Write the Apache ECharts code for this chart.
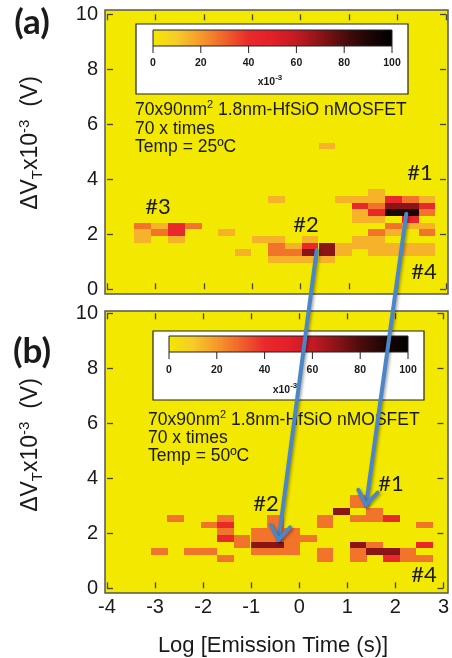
<!DOCTYPE html>
<html><head><meta charset="utf-8">
<script src="https://cdn.jsdelivr.net/npm/echarts@6/dist/echarts.min.js"></script>
<style>html,body{margin:0;padding:0;background:#fff}#c{width:452px;height:658px}</style>
</head><body><div id="c"></div>
<script>
// ---------- data ----------
const xTicks = [-4, -3, -2, -1, 0, 1, 2, 3];
const yTicks = [0, 2, 4, 6, 8, 10];
const colorbarTicks = [0, 20, 40, 60, 80, 100];
// histogram bin centres: log10 emission time (s) and ΔVT (x10^-3 V)
const logTimeBins = [-3.26, -2.91, -2.57, -2.22, -1.88, -1.53, -1.19, -0.84, -0.50, -0.15, 0.19, 0.54, 0.88, 1.23, 1.57, 1.92, 2.26, 2.61];
const dVBins = [1.09, 1.33, 1.58, 1.82, 2.06, 2.30, 2.55, 2.79, 3.03, 3.27, 3.52, 3.76, 5.21];
const binWidth = 0.345, binHeight = 0.2425;
// cells: [logTime bin index, ΔVT bin index, probability x10^-3]
const cells25C = [
  [0,5,27],[1,5,15],[2,5,42],[3,5,27],
  [0,4,15],[1,4,27],[2,4,42],
  [0,3,15],[2,3,15],
  [5,4,15],[8,9,15],[7,3,15],[8,3,15],[6,1,15],
  [8,2,27],[8,1,27],[8,0,15],
  [9,2,15],[9,1,27],[9,0,15],
  [10,3,15],[10,2,42],[10,1,70],[10,0,15],
  [11,2,70],[11,1,70],[11,0,15],
  [12,2,15],[12,1,15],
  [11,12,15],
  [14,10,15],
  [12,9,15],[13,9,15],[14,9,15],[15,9,42],[16,9,27],[17,9,15],
  [13,8,42],[14,8,27],[15,8,70],[16,8,70],[17,8,42],
  [13,7,15],[14,7,42],[15,7,90],[16,7,90],[17,7,27],
  [13,6,15],[14,6,15],[16,6,42],
  [15,5,27],[16,5,15],[17,5,15],
  [14,4,27],[15,4,15],[17,4,27],
  [13,3,15],[14,3,15],
  [13,2,15],[14,2,15],[15,2,15],[16,2,15],[17,2,15],
  [14,1,15],[15,1,15],[16,1,15],[17,1,15]
];
const cells50C = [
  [2,6,27],
  [4,5,27],[5,6,27],[5,5,42],[5,4,27],[5,3,42],
  [6,3,27],[6,2,27],
  [7,4,27],[7,3,27],[7,2,70],[7,1,27],
  [8,6,27],[8,5,27],[8,4,27],[8,3,27],[8,2,70],[8,1,27],
  [9,4,27],[9,3,27],[9,2,27],[9,1,27],
  [10,3,27],
  [1,1,27],[3,1,27],[4,1,27],[5,0,27],
  [11,6,27],[11,5,27],[11,1,27],[11,0,27],
  [12,7,70],
  [13,9,27],[13,8,27],[13,6,27],
  [14,7,27],[14,6,27],[15,6,42],
  [17,5,27],
  [13,2,70],[13,1,27],[13,0,27],
  [14,2,27],[14,1,70],[15,1,70],[15,0,42],
  [16,1,27],[16,0,27],
  [17,2,42],[17,0,27]
];
// arrows: [logTime, ΔVT] start in (a) → tip in (b)
const arrowStarts = [[0.33, 1.43], [2.18, 2.75]];
const arrowTips = [[-0.43, 1.76], [1.39, 3.03]];

// ---------- style ----------
const FONT = '"Liberation Sans", Arial, sans-serif';
const CAL = 'Lato, "Open Sans", sans-serif';
const YEL = '#f3e800';
const cmap = ['#f3e800','#f6cc28','#f59a2c','#f0642a','#e92a2a','#e41f28','#c21a22','#8a1416','#4c0c0c','#1e0505','#000000'];
const TXT = '#1a1a1a';

const chart = echarts.init(document.getElementById('c'));

function toData(cells) { return cells.map(c => [logTimeBins[c[0]], dVBins[c[1]], c[2]]); }
function renderItem(params, api) {
  const x = api.value(0), y = api.value(1);
  const p0 = api.coord([x - binWidth / 2, y + binHeight / 2]);
  const p1 = api.coord([x + binWidth / 2, y - binHeight / 2]);
  const x0 = Math.round(p0[0]), y0 = Math.round(p0[1]);
  return { type: 'rect', shape: { x: x0, y: y0, width: Math.round(p1[0]) - x0, height: Math.round(p1[1]) - y0 },
    style: { fill: api.visual('color') } };
}
const tick = { show: true, inside: true, length: 6, lineStyle: { color: '#444', width: 1.3 } };
function xAx(gi, pos, lab) {
  return { type: 'value', gridIndex: gi, position: pos, min: xTicks[0], max: xTicks[xTicks.length - 1], interval: 1,
    axisLine: { show: false, onZero: false }, axisTick: tick, splitLine: { show: false },
    axisLabel: { show: lab, margin: 9, fontSize: 20, color: TXT, fontFamily: FONT } };
}
function yAx(gi, pos, lab) {
  return { type: 'value', gridIndex: gi, position: pos, min: yTicks[0], max: yTicks[yTicks.length - 1], interval: 2,
    axisLine: { show: false, onZero: false }, axisTick: tick, splitLine: { show: false },
    axisLabel: { show: lab, margin: 9, fontSize: 20, color: TXT, fontFamily: FONT } };
}

function txt(x, y, text, size, opts) {
  return Object.assign({ type: 'text', x: x, y: y, z: 60,
    style: Object.assign({ text: text, fontSize: size, fontFamily: FONT, fill: TXT, align: 'left', verticalAlign: 'middle' }, opts || {}) });
}
function richInfo(x, y, size, supSize) {
  return { type: 'text', x: x, y: y, z: 60, style: {
    text: '{a|70x90nm}{s|2}{a| 1.8nm-HfSiO nMOSFET}', align: 'left', verticalAlign: 'middle',
    rich: { a: { fontSize: size, fontFamily: FONT, fill: TXT, lineHeight: 22, verticalAlign: 'middle' },
            s: { fontSize: supSize, fontFamily: FONT, fill: TXT, lineHeight: 11, verticalAlign: 'top' } } } };
}
function yTitle(x, y) {
  return { type: 'text', x: x, y: y, rotation: Math.PI / 2, z: 60, style: {
    text: '{a|ΔV}{b|T}{a|x10}{c|-3}{a|  (V)}', align: 'center', verticalAlign: 'middle',
    rich: { a: { fontSize: 23, fontFamily: FONT, fill: TXT, lineHeight: 28, verticalAlign: 'middle' },
            b: { fontSize: 15, fontFamily: FONT, fill: TXT, lineHeight: 14, verticalAlign: 'bottom' },
            c: { fontSize: 15, fontFamily: FONT, fill: TXT, lineHeight: 14, verticalAlign: 'top' } } } };
}
function colorbar(bx, by, bw, bh, barX, barY, barW, barH, labY, expX, expY) {
  const els = [];
  els.push({ type: 'rect', z: 40, shape: { x: bx, y: by, width: bw, height: bh }, style: { fill: '#fff', stroke: '#222', lineWidth: 1.2 } });
  const stops = cmap.map((c, i) => ({ offset: i / (cmap.length - 1), color: c }));
  els.push({ type: 'rect', z: 41, shape: { x: barX, y: barY, width: barW, height: barH },
    style: { fill: new echarts.graphic.LinearGradient(0, 0, 1, 0, stops), stroke: '#222', lineWidth: 1 } });
  colorbarTicks.forEach(t => {
    const tx = barX + (t - colorbarTicks[0]) / (colorbarTicks[colorbarTicks.length - 1] - colorbarTicks[0]) * barW;
    els.push({ type: 'line', z: 41, shape: { x1: tx, y1: barY + barH, x2: tx, y2: barY + barH + 7 }, style: { stroke: '#222', lineWidth: 1 } });
    els.push(txt(tx, labY, String(t), 10.5, { align: 'center', fontWeight: 'bold' }));
  });
  els.push({ type: 'text', x: expX, y: expY, z: 60, style: { text: '{a|x10}{s|-3}', align: 'center', verticalAlign: 'middle',
    rich: { a: { fontSize: 10.5, fontWeight: 'bold', fontFamily: FONT, fill: TXT, lineHeight: 16, verticalAlign: 'middle' },
            s: { fontSize: 8, fontWeight: 'bold', fontFamily: FONT, fill: TXT, lineHeight: 8, verticalAlign: 'top' } } } });
  return els;
}

const graphics = [
  { type: 'rect', z: -1, shape: { x: 105, y: 10, width: 343, height: 284 }, style: { fill: YEL } },
  { type: 'rect', z: -1, shape: { x: 105, y: 311, width: 343, height: 282 }, style: { fill: YEL } },
  { type: 'rect', z: 50, shape: { x: 105, y: 10, width: 343, height: 284 }, style: { fill: 'none', stroke: '#555', lineWidth: 1.5 } },
  { type: 'rect', z: 50, shape: { x: 105, y: 311, width: 343, height: 282 }, style: { fill: 'none', stroke: '#555', lineWidth: 1.5 } },
  ...colorbar(136, 24, 272, 70, 153, 30, 239, 16, 63, 270, 82),
  ...colorbar(153, 331, 271, 69, 169, 336, 239, 16, 370, 285, 390),
  richInfo(135, 110, 17.5, 11),
  txt(135, 129, '70 x times', 17.5),
  txt(135, 147, 'Temp = 25ºC', 17.5),
  richInfo(148, 420, 17.5, 11),
  txt(148, 438, '70 x times', 17.5),
  txt(148, 456, 'Temp = 50ºC', 17.5),
  txt(158, 207, '#3', 22, { align: 'center', fontFamily: CAL }),
  txt(306, 225, '#2', 22, { align: 'center', fontFamily: CAL }),
  txt(420, 173, '#1', 22, { align: 'center', fontFamily: CAL }),
  txt(424, 272, '#4', 22, { align: 'center', fontFamily: CAL }),
  txt(266, 504, '#2', 22, { align: 'center', fontFamily: CAL }),
  txt(391, 484, '#1', 22, { align: 'center', fontFamily: CAL }),
  txt(424, 575, '#4', 22, { align: 'center', fontFamily: CAL }),
  txt(32, 23, '(a)', 35, { align: 'center', fontFamily: CAL, fontWeight: 'bold' }),
  txt(32, 352, '(b)', 35, { align: 'center', fontFamily: CAL, fontWeight: 'bold' }),
  yTitle(31, 143),
  yTitle(31, 445),
  txt(273, 646, 'Log [Emission Time (s)]', 22, { align: 'center' })
];

chart.setOption({
  animation: false,
  backgroundColor: '#fff',
  grid: [
    { left: 107, top: 14.3, width: 339, height: 275 },
    { left: 107, top: 313.3, width: 339, height: 275 }
  ],
  xAxis: [xAx(0, 'bottom', false), xAx(0, 'top', false), xAx(1, 'bottom', true), xAx(1, 'top', false)],
  yAxis: [yAx(0, 'left', true), yAx(0, 'right', false), yAx(1, 'left', true), yAx(1, 'right', false)],
  visualMap: { type: 'continuous', show: false, min: 0, max: 100, dimension: 2, seriesIndex: [0, 1], inRange: { color: cmap } },
  series: [
    { type: 'custom', name: '25C', xAxisIndex: 0, yAxisIndex: 0, data: toData(cells25C), renderItem: renderItem, encode: { x: 0, y: 1 } },
    { type: 'custom', name: '50C', xAxisIndex: 2, yAxisIndex: 2, data: toData(cells50C), renderItem: renderItem, encode: { x: 0, y: 1 } }
  ],
  graphic: { elements: graphics }
});

// arrows, positioned through the axes
const arrowEls = [];
arrowStarts.forEach((s, i) => {
  const p0 = chart.convertToPixel({ seriesIndex: 0 }, s);
  const p1 = chart.convertToPixel({ seriesIndex: 1 }, arrowTips[i]);
  const dx = p0[0] - p1[0], dy = p0[1] - p1[1], L = Math.hypot(dx, dy);
  const ux = dx / L, uy = dy / L, a = 35 * Math.PI / 180, h = 17;
  const w1 = [p1[0] + h * (ux * Math.cos(a) - uy * Math.sin(a)), p1[1] + h * (ux * Math.sin(a) + uy * Math.cos(a))];
  const w2 = [p1[0] + h * (ux * Math.cos(a) + uy * Math.sin(a)), p1[1] + h * (-ux * Math.sin(a) + uy * Math.cos(a))];
  const st = { stroke: '#4a86c8', lineWidth: 4, lineCap: 'round', lineJoin: 'round', fill: 'none',
    shadowBlur: 3, shadowColor: 'rgba(0,0,0,0.35)', shadowOffsetX: 1.5, shadowOffsetY: 1.5 };
  arrowEls.push({ id: 'arr' + i, type: 'polyline', z: 100, shape: { points: [p0, p1] }, style: st });
  arrowEls.push({ id: 'head' + i, type: 'polyline', z: 100, shape: { points: [w1, p1, w2] }, style: st });
});
chart.setOption({ graphic: { elements: arrowEls } });
</script></body></html>
